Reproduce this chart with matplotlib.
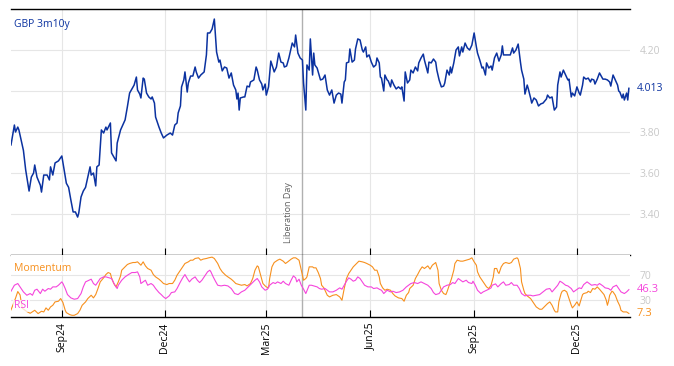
import matplotlib
matplotlib.use("Agg")
import matplotlib.pyplot as plt
import matplotlib.dates as mdates
import numpy as np
import pandas as pd

plt.rcParams['font.family'] = ['Open Sans', 'DejaVu Sans']

start_date = pd.Timestamp("2024-07-18")
end_date = pd.Timestamp("2026-01-17")
event_date = pd.Timestamp("2025-04-02")
event_label = "Liberation Day"
series_name = "GBP 3m10y"

gbp_days = [0,3,4,6,7,9,11,13,16,18,20,21,23,26,27,29,32,34,35,37,39,42,45,47,49,51,53,55,57,59,60,62,64,66,68,70,71,73,75,76,78,80,82,84,85,88,89,91,93,94,97,99,101,103,105,107,109,111,112,114,115,117,118,120,122,124,125,127,128,131,133,135,138,141,143,145,147,148,150,151,153,154,156,157,159,161,163,164,166,168,171,173,174,176,178,180,182,184,185,187,189,191,193,195,197,199,200,201,202,203,206,207,209,211,212,215,217,218,220,222,223,225,226,228,230,232,233,235,237,239,241,242,244,246,248,249,251,252,254,256,258,259,261,262,264,265,267,268,269,271,274,276,278,280,282,284,286,288,290,
            292,293,295,296,297,299,300,302,304,305,307,309,311,312,314,315,317,319,321,323,324,326,327,328,330,331,333,334,336,337,339,341,343,345,346,348,349,351,353,354,356,358,360,361,363,365,366,369,370,372,374,376,377,379,381,383,384,386,388,389,390,392,394,396,397,399,400,402,404,406,408,410,412,413,415,417,418,420,421,423,425,426,428,430,432,434,435,436,439,442,444,445,447,449,451,452,454,455,457,458,460,461,463,465,467,469,471,474,475,477,479,481,483,484,486,487,489,491,493,494,496,497,499,501,503,504,506,507,509,511,513,514,516,517,519,521,523,524,526,528,530,531,533,535,537,538,539,541,542,543,545,546,547]
gbp_vals = [3.737,3.834,3.80,3.824,3.81,3.76,3.71,3.615,3.512,3.58,3.60,3.639,3.58,3.54,3.507,3.59,3.59,3.566,3.63,3.59,3.649,3.659,3.683,3.615,3.55,3.53,3.468,3.41,3.41,3.385,3.405,3.483,3.512,3.53,3.58,3.63,3.59,3.60,3.537,3.63,3.639,3.81,3.795,3.824,3.81,3.844,3.698,3.678,3.659,3.746,3.81,3.834,3.859,3.922,3.99,4.01,4.029,4.068,4.005,3.985,3.966,4.063,4.058,3.99,3.971,3.961,3.971,3.941,3.873,3.824,3.795,3.771,3.785,3.795,3.785,3.834,3.844,3.893,3.927,4.02,4.054,4.093,3.995,4.039,4.073,4.073,4.117,4.093,4.063,4.078,4.093,4.176,4.283,4.283,4.302,4.351,4.19,4.141,4.151,4.098,4.117,4.112,4.063,4.088,4.029,4.005,3.961,3.99,3.907,3.966,3.971,3.971,4.024,4.02,4.044,4.054,4.117,4.102,4.054,4.034,4.005,4.034,3.98,4.02,4.146,4.112,4.093,4.117,4.185,4.141,4.137,4.117,4.122,4.161,4.21,4.234,4.215,4.273,4.185,4.161,4.151,4.039,3.907,4.127,4.102,4.254,4.078,4.185,4.127,4.112,4.054,4.058,4.078,4.005,3.98,4.005,3.941,3.98,3.99,
            3.985,3.941,4.044,4.054,4.137,4.141,4.205,4.141,4.151,4.205,4.254,4.249,4.20,4.19,4.215,4.166,4.176,4.141,4.117,4.127,4.161,4.137,4.068,4.063,4.00,4.078,4.054,4.049,4.02,4.054,4.029,4.01,4.02,4.01,4.02,3.951,4.093,4.039,4.054,4.102,4.088,4.117,4.098,4.137,4.161,4.180,4.151,4.088,4.141,4.137,4.156,4.141,4.102,4.054,4.02,4.024,4.039,4.102,4.078,4.117,4.088,4.137,4.20,4.215,4.171,4.215,4.19,4.234,4.21,4.20,4.224,4.283,4.215,4.185,4.151,4.112,4.117,4.078,4.137,4.112,4.122,4.102,4.161,4.185,4.146,4.176,4.22,4.176,4.176,4.176,4.21,4.185,4.20,4.229,4.141,4.102,4.058,3.985,4.029,4.01,3.966,3.941,3.966,3.956,3.927,3.937,3.941,3.961,3.98,3.966,3.971,3.907,3.922,4.029,4.093,4.068,4.102,4.078,4.054,4.058,3.971,3.99,3.976,4.02,3.99,3.98,4.029,4.068,4.058,4.063,4.044,4.058,4.054,4.034,4.058,4.088,4.068,4.058,4.058,4.054,4.044,4.024,4.078,4.054,4.029,4.00,3.995,3.966,3.985,3.956,3.99,3.956,4.013]

rsi_days = [0,3,6,8,11,14,17,19,21,23,26,28,30,33,35,37,40,42,45,46,48,50,53,56,59,62,64,66,69,71,73,75,77,79,82,84,87,89,92,94,95,98,101,104,107,110,112,114,115,117,119,121,124,126,128,131,133,135,137,140,142,145,147,150,152,154,156,158,160,163,165,167,169,171,174,176,177,179,181,183,186,189,192,195,198,201,204,207,210,213,216,218,220,222,225,227,229,232,234,236,239,241,243,246,248,250,252,253,255,257,259,261,264,266,268,271,273,275,278,280,
            282,285,288,291,293,295,297,299,301,303,305,307,309,311,313,316,319,321,324,326,328,330,333,336,338,341,344,347,350,352,354,357,360,363,366,369,372,374,376,379,381,383,386,389,391,393,396,398,400,403,405,408,409,411,413,416,418,421,423,425,426,429,431,434,436,438,441,443,445,448,450,452,455,457,460,462,465,468,471,474,477,479,481,484,486,488,491,493,496,498,500,503,505,507,510,512,514,517,519,521,524,526,529,531,533,536,538,540,543,545,547]
rsi_vals = [43.7,53.5,56.3,50.8,42.6,37.1,39.9,37.1,45.3,47,39.9,47,43.7,48.1,47,50.8,50.8,53.5,59,56.3,48.1,38.2,32.8,30.6,31.7,39.9,50.8,59,61.7,63.4,56.3,53.5,59,64.5,67.2,67.2,65.6,64.5,53.5,48.1,53.5,61.7,67.2,71,74.3,74.3,75.4,67.2,56.3,59,61.7,53.5,56.3,53.5,48.1,41.5,38.2,34.4,31.7,36,41.5,42.6,48.1,59,65.6,71,64.5,59,63.4,67.2,61.7,57.9,61.7,67.2,75.4,78.1,75.4,67.2,60.1,53.5,52.4,53.5,52.4,48.1,39.9,38.2,42.6,45.3,50.8,56.3,61.7,64.5,59,50.8,45.3,47,53.5,57.9,56.3,59,56.3,60.1,56.3,53.5,61.7,68.8,65.6,59,63.4,53.5,47,39.9,53.5,53.5,52.4,50.8,48.1,47,48.1,45.3,
            42.6,42.6,45.3,49.2,47,53.5,60.1,65.6,63.4,60.1,61.7,67.2,64.5,59,53.5,50.8,50.8,48.1,49.2,47,45.3,39.9,45.3,42.6,43.7,41.5,42.6,45.3,50.8,53.5,56.3,57.9,56.3,59,56.3,53.5,48.1,41.5,38.2,39.9,45.3,50.8,53.5,54.6,57.9,56.3,64.5,61.7,59,61.7,57.9,56.3,60.1,53.5,45.3,39.9,42.6,45.3,47,49.2,53.5,55.7,50.8,56.3,59,53.5,54.6,57.9,53.5,53.5,48.1,39.9,36,37.1,37.1,36,37.1,38.2,42.6,47,48.1,42.6,47,53.5,60.1,57.9,53.5,52.4,48.1,42.6,45.3,49.2,48.1,54.6,59,56.3,53.5,54.6,53.5,56.3,52.4,49.2,48.1,45.3,50.8,53.5,48.1,42.6,39.9,42.6,46.3]

mom_days = [0,4,6,8,10,14,17,21,24,27,29,31,33,35,37,39,42,44,46,48,49,52,54,56,59,61,63,66,68,71,73,75,77,79,82,84,86,88,89,91,93,95,97,98,101,103,105,108,110,112,115,117,119,121,124,126,128,131,133,135,138,140,143,145,147,150,152,154,157,159,161,163,166,168,170,173,175,178,180,183,185,187,190,192,195,197,199,202,204,207,209,212,214,216,218,219,221,223,225,226,228,229,231,233,236,238,241,243,245,248,250,252,255,256,258,259,261,262,264,267,268,270,272,274,275,277,
            280,282,285,288,291,293,295,297,299,301,303,306,308,311,313,315,318,320,322,324,326,327,329,331,333,336,338,340,343,346,348,350,352,353,356,358,360,362,364,366,369,371,373,376,378,379,381,383,385,386,388,390,392,393,395,398,400,403,406,408,410,412,413,415,417,419,421,423,425,427,428,430,431,432,434,436,438,441,443,445,448,449,451,452,454,455,457,460,462,465,468,470,472,475,477,479,481,482,484,485,487,488,490,492,494,496,497,499,501,503,504,506,507,510,511,513,515,517,519,521,523,525,527,528,529,530,532,533,535,537,539,540,542,545,547]
mom_vals = [13.1,32.2,43.2,37.7,15.8,10.4,7.6,12.5,7.1,10.9,9.8,16.4,12.5,18,20.7,26.2,27.3,31.7,25.1,12.5,8.7,5.4,4.3,4.3,7.1,12.5,20.7,26.2,31.7,37.1,32.8,38.2,48.1,59,65.6,71,74.3,72.7,65.6,56.3,50.8,59,68.8,78.1,83.6,87.4,89.1,90.7,90.7,91.8,86.3,91.8,85.2,80.9,78.1,71,67.2,63.4,60.1,56.3,54.6,56.3,56.3,61.7,69.9,78.1,83.6,89.1,91.8,94.5,94.5,97.3,98.4,94.5,96.2,97.3,98.4,99.5,97.3,89.1,80.9,75.4,69.9,67.2,63.4,60.1,56.3,54.6,53.5,54.6,52.4,56.3,64.5,78.1,85.2,83.6,69.9,56.3,52.4,50.8,49.2,64.5,83.6,90.7,94.5,96.2,92.9,89.1,91.8,96.2,98.4,98.4,94.5,86.3,69.9,61.7,64.5,67.2,83.6,83.6,82,82,74.3,64.5,53.5,49.2,
            37.1,34.4,37.1,38.2,34.4,28.9,48.1,64.5,72.7,78.1,83.6,89.1,92.9,91.8,90.7,89.1,86.3,83.6,78.1,78.1,67.2,56.3,49.2,45.3,47,45.3,39.9,36,32.8,31.7,27.3,37.1,41.5,48.1,53.5,64.5,71,78.1,83.6,80.9,85.2,79.8,86.3,90.7,78.1,56.3,45.3,39.9,38.2,42.6,53.5,64.5,78.1,89.1,94.5,92.9,92.9,94.5,96.2,98.4,91.8,86.3,75.4,67.2,61.7,56.3,50.8,48.1,53.5,67.2,80.9,80.9,75.4,72.7,83.6,89.1,90.7,89.1,90.7,96.2,98.4,96.2,80.9,59,45.3,39.9,36,31.7,26.2,18,14.2,14.2,18,23.5,26.2,20.7,12.5,9.8,9.8,26.2,39.9,43.7,45.3,42.6,31.7,20.7,16.4,20.7,26.2,19.6,26.2,38.2,39.9,41.5,43.7,41.5,48.1,47,50.8,47,42.6,38.2,28.9,20.7,27.3,37.1,43.7,42.6,37.1,27.3,19.6,12.5,9.8,9.8,7.3]

main_ticks = [3.40, 3.60, 3.80, 4.00, 4.20]
ind_ticks = [30, 70]
month_ticks = ["2024-09-01", "2024-12-01", "2025-03-01", "2025-06-01", "2025-09-01", "2025-12-01"]


def to_dates(days):
    return start_date + pd.to_timedelta(np.array(days), unit="D")


BLUE = "#0b32a0"
ORANGE = "#f7901e"
MAGENTA = "#f545dc"
GRID = "#e6e6e6"
TICKC = "#c8c8c8"

W, H = 674, 366
fig = plt.figure(figsize=(W / 100, H / 100), dpi=100)
L, R = 11 / W, 630 / W
ax1 = fig.add_axes([L, 1 - 255 / H, R - L, 246 / H])
ax2 = fig.add_axes([L, 1 - 317 / H, R - L, 62 / H], sharex=ax1)

ax1.plot(to_dates(gbp_days), gbp_vals, color=BLUE, lw=1.1, zorder=3)
ax2.plot(to_dates(mom_days), mom_vals, color=ORANGE, lw=0.8, zorder=3)
ax2.plot(to_dates(rsi_days), rsi_vals, color=MAGENTA, lw=0.8, zorder=3)

ax1.set_xlim(start_date, end_date)
ax1.set_ylim(3.20, 4.40)
ax2.set_ylim(1.5, 103)

tick_dates = pd.to_datetime(month_ticks)
for ax in (ax1, ax2):
    ax.set_xticks(tick_dates)
    ax.grid(True, color=GRID, lw=0.8)
    ax.set_axisbelow(True)
    for s in ("left", "right"):
        ax.spines[s].set_visible(False)
    ax.tick_params(axis="x", direction="in", length=5, width=0.8, color="black")
    ax.yaxis.tick_right()
    ax.tick_params(axis="y", length=0, labelsize=7.5, labelcolor=TICKC, pad=7)
    ax.axvline(event_date, color="#b0b0b0", lw=1, zorder=2)

ax1.spines["top"].set_linewidth(1)
ax1.spines["bottom"].set_linewidth(1)
ax2.spines["top"].set_visible(False)
ax2.spines["bottom"].set_linewidth(1)

last_val = gbp_vals[-1]
ax1.set_yticks(main_ticks)
# the 4.00 label is covered by the last-value label in the reference
ax1.set_yticklabels(["" if abs(t - last_val) < 0.05 else f"{t:.2f}" for t in main_ticks])
ax2.set_yticks(ind_ticks)
ax2.set_yticklabels([str(t) for t in ind_ticks])
plt.setp(ax1.get_xticklabels(), visible=False)
ax2.xaxis.set_major_formatter(mdates.DateFormatter("%b%y"))
plt.setp(ax2.get_xticklabels(), rotation=90, fontsize=7.5, color="black")
ax2.tick_params(axis="x", pad=4)

# last value labels
ax1.annotate(f"{last_val:.3f}", xy=(1.0, last_val), xycoords=("axes fraction", "data"),
             xytext=(5, 0), textcoords="offset points", va="center", ha="left",
             color=BLUE, fontsize=7.5, bbox=dict(fc="white", ec="none", pad=0.5))
ax2.annotate(f"{rsi_vals[-1]:.1f}", xy=(1.0, rsi_vals[-1]), xycoords=("axes fraction", "data"),
             xytext=(5, 0), textcoords="offset points", va="center", ha="left",
             color=MAGENTA, fontsize=8, bbox=dict(fc="white", ec="none", pad=0.3, alpha=0.6))
ax2.annotate(f"{mom_vals[-1]:.1f}", xy=(1.0, mom_vals[-1]), xycoords=("axes fraction", "data"),
             xytext=(5, 0), textcoords="offset points", va="center", ha="left",
             color=ORANGE, fontsize=8)

ax1.text(0.005, 0.935, series_name, transform=ax1.transAxes, color=BLUE, fontsize=7.5, va="center")
ax2.text(0.005, 0.78, "Momentum", transform=ax2.transAxes, color=ORANGE, fontsize=7.5, va="center",
         bbox=dict(fc="white", ec="none", alpha=0.7, pad=0.5))
ax2.text(0.005, 0.18, "RSI", transform=ax2.transAxes, color=MAGENTA, fontsize=7.5, va="center",
         bbox=dict(fc="white", ec="none", alpha=0.75, pad=0.5))

ax1.annotate(event_label, xy=(event_date, 3.259), xycoords="data", xytext=(-6.5, 0),
             textcoords="offset points", rotation=90, ha="right", va="bottom",
             color="#606060", fontsize=6.5)

fig.savefig("out.png", dpi=100)
